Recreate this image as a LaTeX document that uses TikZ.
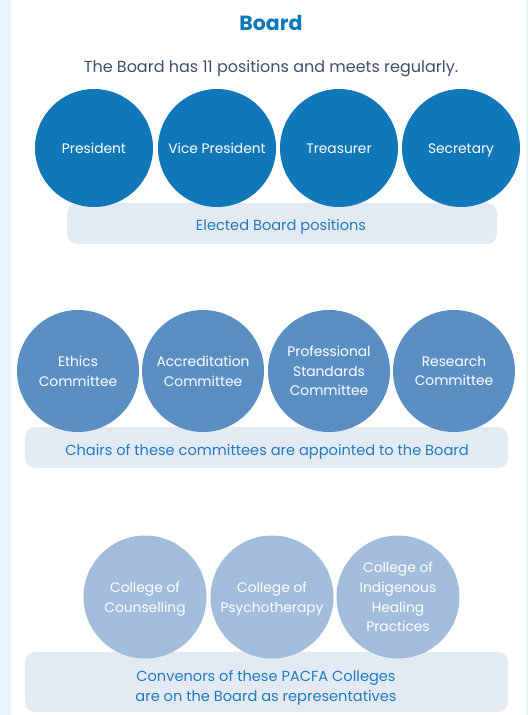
\documentclass[tikz,border=0pt]{standalone}
\usepackage{fontspec}
\setmainfont{Poppins}
\definecolor{stripbg}{HTML}{E8F4F7}
\definecolor{elected}{HTML}{1078B8}
\definecolor{chairs}{HTML}{5B8FC4}
\definecolor{colleges}{HTML}{A2BCDC}
\definecolor{bandbg}{HTML}{E4EAF4}
\definecolor{bandtext}{HTML}{1E7CC0}
\definecolor{titleblue}{HTML}{1078BA}
\definecolor{subtext}{HTML}{3D4F6E}
\begin{document}
\begin{tikzpicture}[x=1pt,y=-1pt,
  role/.style={circle,minimum size=#1,inner sep=0pt,text=white,align=center,
    text depth=0pt,font=\fontsize{13.8}{19.7}\selectfont},
  band/.style={rounded corners=10pt,fill=bandbg},
  bandlabel/.style={text=bandtext,align=center,text depth=0pt,
    font=\fontsize{14.6}{19.5}\selectfont}]
  % page and side strips
  \useasboundingbox (0,0) rectangle (528,715);
  \fill[stripbg] (0,0) rectangle (11,715);
  \fill[stripbg] (526,0) rectangle (528,715);

  % heading
  \node[text=titleblue,font=\fontsize{20.5}{24}\bfseries\selectfont] (title) at (271,23) {Board};
  \node[text=subtext,font=\fontsize{16}{19}\selectfont] (intro) at (271,69)
    {The Board has 11 positions and meets regularly.};

  % elected positions (single-line labels share one text height)
  \fill[band] (67,203) rectangle (497,244);
  \node[bandlabel] (electedlbl) at (281,225) {Elected Board positions};
  \foreach \n/\x/\t in {pres/94/President, vp/217/Vice President,
                        treas/339/Treasurer, sec/461/Secretary}
    \node[role=118pt,fill=elected,text height=10pt] (\n) at (\x,148) {\t};

  % appointed committee chairs
  \fill[band] (25,427) rectangle (508,468);
  \node[bandlabel] (chairslbl) at (267,450) {Chairs of these committees are appointed to the Board};
  \foreach \n/\x/\t in {ethics/78/Ethics\\Committee, accr/203/Accreditation\\Committee,
                        prof/329/Professional\\Standards\\Committee, res/454/Research\\Committee}
    \node[role=122pt,fill=chairs] (\n) at (\x,371) {\t};

  % college convenors
  \fill[band] (25,652) rectangle (508,712);
  \node[bandlabel] (collegeslbl) at (266,686)
    {Convenors of these PACFA Colleges\\are on the Board as representatives};
  \foreach \n/\x/\t in {couns/145/College of\\Counselling, psych/272/College of\\Psychotherapy,
                        indig/398/College of\\Indigenous\\Healing\\Practices}
    \node[role=123pt,fill=colleges] (\n) at (\x,597) {\t};
\end{tikzpicture}
\end{document}
